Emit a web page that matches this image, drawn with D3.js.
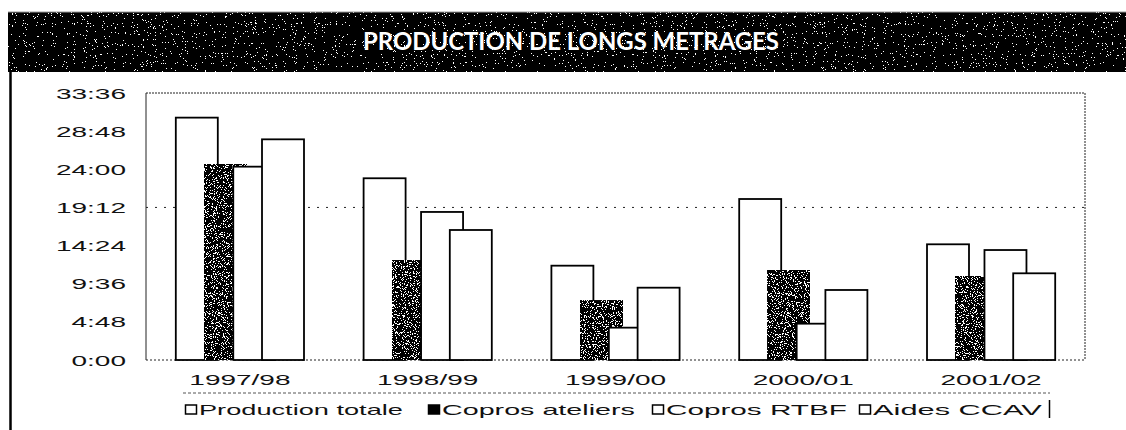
<!DOCTYPE html>
<html>
<head>
<meta charset="utf-8">
<script src="https://cdn.jsdelivr.net/npm/d3@7"></script>
<style>
  body { margin: 0; background: #fff; }
  text { font-family: "Liberation Sans", Arial, sans-serif; }
</style>
</head>
<body>
<div id="content"></div>
<script>
// data, in hours (axis shows h:mm)
var categories = ["1997/98", "1998/99", "1999/00", "2000/01", "2001/02"];
var seriesNames = ["Production totale", "Copros ateliers", "Copros RTBF", "Aides CCAV"];
var prodTotale   = [30.5, 22.87, 11.87, 20.26, 14.56];
var coprosAtel   = [24.63, 12.58, 7.43, 11.24, 10.57];
var coprosRTBF   = [24.33, 18.63, 4.07, 4.57, 13.84];
var aidesCCAV    = [27.77, 16.36, 9.10, 8.81, 10.91];
var tickValues = [0, 4.8, 9.6, 14.4, 19.2, 24, 28.8, 33.6];
var title = "PRODUCTION DE LONGS METRAGES";

var series = [prodTotale, coprosAtel, coprosRTBF, aidesCCAV];

var W = 1126, H = 430;
var svg = d3.select('#content').append('svg')
    .attr('width', W).attr('height', H);

var defs = svg.append('defs');
function speckle(id, cut) {
    var f = defs.append('filter').attr('id', id)
        .attr('x', 0).attr('y', 0).attr('width', '100%').attr('height', '100%');
    f.append('feTurbulence').attr('type', 'fractalNoise')
        .attr('baseFrequency', 0.9).attr('numOctaves', 2).attr('seed', 7).attr('result', 'n');
    f.append('feColorMatrix').attr('in', 'n').attr('type', 'matrix')
        .attr('values', '0 0 0 0 1  0 0 0 0 1  0 0 0 0 1  1 0 0 0 0').attr('result', 'w');
    f.append('feComponentTransfer').attr('in', 'w').attr('result', 't')
        .append('feFuncA').attr('type', 'discrete').attr('tableValues', cut);
    f.append('feComposite').attr('in', 't').attr('in2', 'SourceAlpha').attr('operator', 'in').attr('result', 'm');
    var mg = f.append('feMerge');
    mg.append('feMergeNode').attr('in', 'SourceGraphic');
    mg.append('feMergeNode').attr('in', 'm');
}
speckle('spk', '0 0 0 0 0 0 0 1 1 1');
speckle('spk2', '0 0 0 0 0 0 1 1 1 1');

// title band
svg.append('rect').attr('x', 8).attr('y', 12).attr('width', W - 8).attr('height', 60)
    .attr('fill', '#000').attr('filter', 'url(#spk)');
svg.append('line').attr('x1', 8).attr('x2', W).attr('y1', 12).attr('y2', 12)
    .attr('stroke', '#999').attr('stroke-width', 1);
svg.append('text').attr('x', 571).attr('y', 50)
    .attr('text-anchor', 'middle')
    .attr('textLength', 416).attr('lengthAdjust', 'spacingAndGlyphs')
    .style('font-family', 'Lato, "Open Sans", sans-serif')
    .style('font-weight', 'bold').style('font-size', '24px')
    .attr('fill', '#fff').text(title);

// left frame line
svg.append('line').attr('x1', 10.5).attr('x2', 10.5).attr('y1', 72).attr('y2', H)
    .attr('stroke', '#000').attr('stroke-width', 2.5);

var plotL = 146, plotR = 1085, plotT = 93, plotB = 360;
var x = d3.scaleBand().domain(categories).range([plotL, plotR]).padding(0);
var y = d3.scaleLinear().domain([0, 33.6]).range([plotB, plotT]);

function hm(v) {
    var h = Math.floor(v + 1e-9);
    var m = Math.round((v - h) * 60);
    return h + ':' + (m < 10 ? '0' + m : m);
}

// plot frame
var frame = svg.append('g').attr('stroke', '#222').attr('fill', 'none');
frame.append('line').attr('x1', plotL).attr('x2', plotR).attr('y1', plotT).attr('y2', plotT)
    .attr('stroke-dasharray', '2,1');
frame.append('line').attr('x1', plotR).attr('x2', plotR).attr('y1', plotT).attr('y2', plotB)
    .attr('stroke-dasharray', '2,1');
frame.append('line').attr('x1', plotL).attr('x2', plotR).attr('y1', plotB).attr('y2', plotB)
    .attr('stroke-dasharray', '2,2');
frame.append('line').attr('x1', plotL).attr('x2', plotL).attr('y1', plotT).attr('y2', plotB);
// gridline at 19:12
frame.append('line').attr('x1', plotL).attr('x2', plotR)
    .attr('y1', y(19.2)).attr('y2', y(19.2))
    .attr('stroke-dasharray', '2,7');

// y axis labels (wide, stretched look)
var yAxis = svg.append('g').attr('transform', 'translate(126,0)')
    .call(d3.axisLeft(y).tickValues(tickValues).tickFormat(hm).tickSize(0).tickPadding(0));
yAxis.select('.domain').remove();
yAxis.selectAll('text')
    .attr('x', 0).attr('dy', null).attr('y', 5)
    .attr('transform', 'scale(2,1)')
    .style('font-size', '14px').style('font-family', '"Liberation Sans", Arial, sans-serif')
    .attr('fill', '#111');

// x axis labels
var xAxis = svg.append('g').attr('transform', 'translate(0,' + plotB + ')')
    .call(d3.axisBottom(x).tickSize(0).tickPadding(0));
xAxis.select('.domain').remove();
xAxis.selectAll('.tick text')
    .attr('y', 0).attr('dy', null).attr('x', 0)
    .attr('transform', 'translate(0,25) scale(2,1)')
    .style('font-size', '14px').style('font-family', '"Liberation Sans", Arial, sans-serif')
    .attr('fill', '#111');

// bars: 4 overlapping bars per category
var bw = x.bandwidth();
var barW = bw * 0.2236, step = bw * 0.153;
var groupW = barW + 3 * step;

series.forEach(function(vals, si) {
    svg.append('g').selectAll('rect')
        .data(vals)
        .join('rect')
        .attr('x', function(d, i) { return x(categories[i]) + (bw - groupW) / 2 + si * step; })
        .attr('y', function(d) { return y(d); })
        .attr('width', barW)
        .attr('height', function(d) { return plotB - y(d); })
        .attr('fill', si === 1 ? '#000' : '#fff')
        .attr('filter', si === 1 ? 'url(#spk2)' : null)
        .attr('stroke', '#000')
        .attr('stroke-width', 1.8);
});

// legend
var legendX = [185, 428, 652, 859];
var legendEnd = [403, 635, 847, 1042];
var lg = svg.append('g');
lg.append('line').attr('x1', 183).attr('x2', 1050).attr('y1', 393).attr('y2', 393)
    .attr('stroke', '#555').attr('stroke-dasharray', '3,2');
lg.append('line').attr('x1', 1049.5).attr('x2', 1049.5).attr('y1', 400).attr('y2', 418)
    .attr('stroke', '#000').attr('stroke-width', 1.5);
seriesNames.forEach(function(name, i) {
    var g = lg.append('g').attr('transform', 'translate(' + legendX[i] + ',0)');
    g.append('rect').attr('x', 0.5).attr('y', 405).attr('width', 11).attr('height', 9)
        .attr('fill', i === 1 ? '#000' : '#fff').attr('stroke', '#000').attr('stroke-width', 1.5);
    var t = g.append('text').attr('x', 0).attr('y', 0)
        .style('font-size', '14px').attr('fill', '#111').text(name);
    var len = t.node().getComputedTextLength();
    var target = legendEnd[i] - (legendX[i] + 14);
    t.attr('transform', 'translate(14,415) scale(' + (target / len) + ',1)');
});
</script>
</body>
</html>
